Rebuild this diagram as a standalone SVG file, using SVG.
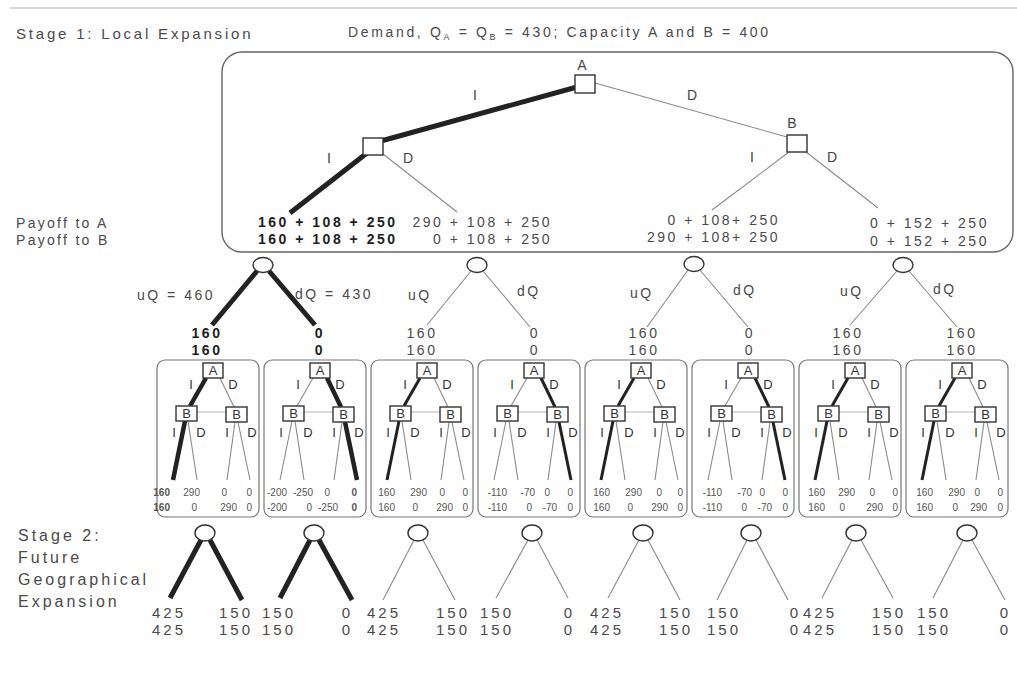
<svg xmlns="http://www.w3.org/2000/svg" width="1017" height="681" viewBox="0 0 1017 681">
<style>
text{font-family:"Liberation Sans",Arial,Helvetica,sans-serif;fill:#4a4a4a}
.t{font-size:14px;letter-spacing:2.5px}
.h{font-size:15px;letter-spacing:2.8px}
.h2{font-size:16px;letter-spacing:3px}
.bd{font-weight:bold;fill:#1e1e1e}
.n{font-size:14px;text-anchor:middle;fill:#444}
.sn{font-size:13px;text-anchor:middle;fill:#333}
.v{font-size:10px;text-anchor:end;fill:#555}
.v2{font-size:15px;letter-spacing:3px}
.e{text-anchor:end}
.m{text-anchor:middle}
.thin{stroke:#8a8a8a;stroke-width:1.1;fill:none}
.thk{stroke:#222;stroke-width:5;fill:none}
.tk2{stroke:#222;stroke-width:4.5;fill:none}
.mid{stroke:#222;stroke-width:3;fill:none}
.sq{fill:#fff;stroke:#333;stroke-width:1.4}
.ch{fill:#fff;stroke:#333;stroke-width:1.4}
.frame{fill:none;stroke:#666;stroke-width:1.4}
.sub{fill:none;stroke:#777;stroke-width:1.2}
.info{stroke:#b5b5b5;stroke-width:1}
</style>

<line x1="10" y1="8" x2="1017" y2="8" stroke="#d6d6d6" stroke-width="2"/>

<g id="titles">
<text class="h" x="16" y="39">Stage 1: Local Expansion</text>
<text class="t" x="348" y="37" style="letter-spacing:2.65px">Demand, Q<tspan font-size="9" dy="3">A</tspan><tspan dy="-3"> = Q</tspan><tspan font-size="9" dy="3">B</tspan><tspan dy="-3"> = 430; Capacity A and B = 400</tspan></text>
<text class="t" x="16" y="228" style="letter-spacing:2.3px">Payoff to A</text>
<text class="t" x="16" y="245" style="letter-spacing:2.3px">Payoff to B</text>
<text class="h2" x="18" y="541">Stage 2:</text>
<text class="h2" x="18" y="563">Future</text>
<text class="h2" x="18" y="585">Geographical</text>
<text class="h2" x="18" y="607">Expansion</text>
</g>

<g id="stage1-frame">
<rect class="frame" x="222" y="52" width="791" height="200" rx="20"/>
</g>

<g id="connectors">
<g id="stage1-edges">
<line class="thk" x1="577" y1="87" x2="381" y2="141"/>
<line class="thk" x1="367" y1="153" x2="290" y2="213"/>
<line class="thin" x1="383" y1="154" x2="457" y2="212"/>
<line class="thin" x1="595" y1="83" x2="787" y2="137"/>
<line class="thin" x1="789" y1="152" x2="712" y2="210"/>
<line class="thin" x1="806" y1="152" x2="878" y2="208"/>
</g>
<g id="demand-edges">
<line class="thk" x1="257" y1="271" x2="212" y2="325"/>
<line class="thk" x1="269" y1="271" x2="315" y2="325"/>
<line class="thin" x1="471" y1="271" x2="427" y2="325"/>
<line class="thin" x1="483" y1="271" x2="530" y2="327"/>
<line class="thin" x1="688" y1="270" x2="647" y2="327"/>
<line class="thin" x1="700" y1="270" x2="748" y2="327"/>
<line class="thin" x1="897" y1="271" x2="850" y2="325"/>
<line class="thin" x1="909" y1="271" x2="957" y2="327"/>
</g>
<g id="sub1-edges" transform="translate(157,0)">
<line class="tk2" x1="49" y1="378" x2="33" y2="406"/><line class="thin" x1="63" y1="378" x2="77" y2="407"/>
<line class="tk2" x1="28" y1="421" x2="16" y2="480"/><line class="thin" x1="31" y1="421" x2="40" y2="480"/>
<line class="thin" x1="78" y1="422" x2="70" y2="480"/><line class="thin" x1="81" y1="422" x2="93" y2="480"/>
<line class="info" x1="40" y1="412" x2="69" y2="412"/>
</g>
<g id="sub2-edges" transform="translate(264,0)">
<line class="thin" x1="49" y1="378" x2="33" y2="406"/><line class="tk2" x1="63" y1="378" x2="77" y2="407"/>
<line class="thin" x1="28" y1="421" x2="16" y2="480"/><line class="thin" x1="31" y1="421" x2="40" y2="480"/>
<line class="thin" x1="78" y1="422" x2="70" y2="480"/><line class="tk2" x1="81" y1="422" x2="93" y2="480"/>
<line class="info" x1="40" y1="412" x2="69" y2="412"/>
</g>
<g id="sub3-edges" transform="translate(371,0)">
<line class="mid" x1="49" y1="378" x2="33" y2="406"/><line class="thin" x1="63" y1="378" x2="77" y2="407"/>
<line class="mid" x1="28" y1="421" x2="16" y2="480"/><line class="thin" x1="31" y1="421" x2="40" y2="480"/>
<line class="thin" x1="78" y1="422" x2="70" y2="480"/><line class="thin" x1="81" y1="422" x2="93" y2="480"/>
<line class="info" x1="40" y1="412" x2="69" y2="412"/>
</g>
<g id="sub4-edges" transform="translate(478,0)">
<line class="thin" x1="49" y1="378" x2="33" y2="406"/><line class="mid" x1="63" y1="378" x2="77" y2="407"/>
<line class="thin" x1="28" y1="421" x2="16" y2="480"/><line class="thin" x1="31" y1="421" x2="40" y2="480"/>
<line class="thin" x1="78" y1="422" x2="70" y2="480"/><line class="mid" x1="81" y1="422" x2="93" y2="480"/>
<line class="info" x1="40" y1="412" x2="69" y2="412"/>
</g>
<g id="sub5-edges" transform="translate(585,0)">
<line class="mid" x1="49" y1="378" x2="33" y2="406"/><line class="thin" x1="63" y1="378" x2="77" y2="407"/>
<line class="mid" x1="28" y1="421" x2="16" y2="480"/><line class="thin" x1="31" y1="421" x2="40" y2="480"/>
<line class="thin" x1="78" y1="422" x2="70" y2="480"/><line class="thin" x1="81" y1="422" x2="93" y2="480"/>
<line class="info" x1="40" y1="412" x2="69" y2="412"/>
</g>
<g id="sub6-edges" transform="translate(692,0)">
<line class="thin" x1="49" y1="378" x2="33" y2="406"/><line class="mid" x1="63" y1="378" x2="77" y2="407"/>
<line class="thin" x1="28" y1="421" x2="16" y2="480"/><line class="thin" x1="31" y1="421" x2="40" y2="480"/>
<line class="thin" x1="78" y1="422" x2="70" y2="480"/><line class="mid" x1="81" y1="422" x2="93" y2="480"/>
<line class="info" x1="40" y1="412" x2="69" y2="412"/>
</g>
<g id="sub7-edges" transform="translate(799,0)">
<line class="mid" x1="49" y1="378" x2="33" y2="406"/><line class="thin" x1="63" y1="378" x2="77" y2="407"/>
<line class="mid" x1="28" y1="421" x2="16" y2="480"/><line class="thin" x1="31" y1="421" x2="40" y2="480"/>
<line class="thin" x1="78" y1="422" x2="70" y2="480"/><line class="thin" x1="81" y1="422" x2="93" y2="480"/>
<line class="info" x1="40" y1="412" x2="69" y2="412"/>
</g>
<g id="sub8-edges" transform="translate(906,0)">
<line class="mid" x1="49" y1="378" x2="33" y2="406"/><line class="thin" x1="63" y1="378" x2="77" y2="407"/>
<line class="mid" x1="28" y1="421" x2="16" y2="480"/><line class="thin" x1="31" y1="421" x2="40" y2="480"/>
<line class="thin" x1="78" y1="422" x2="70" y2="480"/><line class="thin" x1="81" y1="422" x2="93" y2="480"/>
<line class="info" x1="40" y1="412" x2="69" y2="412"/>
</g>
<g id="stage2-edges">
<line class="thk" x1="201" y1="540" x2="170" y2="598"/><line class="thk" x1="210" y1="540" x2="242" y2="600"/>
<line class="thk" x1="310" y1="540" x2="280" y2="598"/><line class="thk" x1="319" y1="540" x2="352" y2="600"/>
<line class="thin" x1="414" y1="540" x2="383" y2="600"/><line class="thin" x1="423" y1="540" x2="455" y2="600"/>
<line class="thin" x1="528" y1="540" x2="496" y2="598"/><line class="thin" x1="537" y1="540" x2="568" y2="598"/>
<line class="thin" x1="639" y1="540" x2="608" y2="598"/><line class="thin" x1="648" y1="540" x2="680" y2="600"/>
<line class="thin" x1="747" y1="540" x2="717" y2="600"/><line class="thin" x1="756" y1="540" x2="788" y2="600"/>
<line class="thin" x1="852" y1="540" x2="822" y2="598"/><line class="thin" x1="861" y1="540" x2="893" y2="598"/>
<line class="thin" x1="963" y1="540" x2="933" y2="598"/><line class="thin" x1="972" y1="540" x2="1005" y2="600"/>
</g>
</g>

<g id="s1-nodeA">
<rect class="sq" x="575" y="75" width="20" height="18"/>
<text class="n" x="582" y="70">A</text>
</g>
<g id="s1-nodeBL">
<rect class="sq" x="363" y="138" width="20" height="17"/>
</g>
<g id="s1-nodeBR">
<rect class="sq" x="787" y="135" width="20" height="17"/>
<text class="n" x="792" y="128">B</text>
</g>
<g id="s1-labels">
<text class="n" x="475" y="100">I</text>
<text class="n" x="692" y="100">D</text>
<text class="n" x="329" y="163">I</text>
<text class="n" x="408" y="163">D</text>
<text class="n" x="752" y="162">I</text>
<text class="n" x="832" y="162">D</text>
</g>
<g id="s1-payoffs">
<text class="t bd" x="258" y="227">160 + 108 + 250</text>
<text class="t bd" x="258" y="244">160 + 108 + 250</text>
<text class="t e" x="552" y="227">290 + 108 + 250</text>
<text class="t e" x="552" y="244">0 + 108 + 250</text>
<text class="t e" x="780" y="225">0 + 108+ 250</text>
<text class="t e" x="780" y="242">290 + 108+ 250</text>
<text class="t" x="870" y="228">0 + 152 + 250</text>
<text class="t" x="870" y="246">0 + 152 + 250</text>
</g>

<g id="demand1">
<ellipse class="ch" cx="263" cy="265" rx="10" ry="7.5"/>
<text class="t" x="137" y="300">uQ = 460</text>
<text class="t" x="295" y="299">dQ = 430</text>
<text class="t bd m" x="207" y="338">160</text>
<text class="t bd m" x="207" y="355">160</text>
<text class="t bd m" x="320" y="338">0</text>
<text class="t bd m" x="320" y="355">0</text>
</g>
<g id="demand2">
<ellipse class="ch" cx="477" cy="265" rx="10" ry="7.5"/>
<text class="t" x="408" y="300">uQ</text>
<text class="t" x="517" y="296">dQ</text>
<text class="t m" x="422" y="338">160</text>
<text class="t m" x="422" y="355">160</text>
<text class="t m" x="535" y="338">0</text>
<text class="t m" x="535" y="355">0</text>
</g>
<g id="demand3">
<ellipse class="ch" cx="694" cy="264" rx="10" ry="7.5"/>
<text class="t" x="630" y="298">uQ</text>
<text class="t" x="733" y="295">dQ</text>
<text class="t m" x="644" y="338">160</text>
<text class="t m" x="644" y="355">160</text>
<text class="t m" x="750" y="338">0</text>
<text class="t m" x="750" y="355">0</text>
</g>
<g id="demand4">
<ellipse class="ch" cx="903" cy="265" rx="10" ry="7.5"/>
<text class="t" x="840" y="296">uQ</text>
<text class="t" x="933" y="294">dQ</text>
<text class="t m" x="848" y="338">160</text>
<text class="t m" x="848" y="355">160</text>
<text class="t m" x="962" y="338">160</text>
<text class="t m" x="962" y="355">160</text>
</g>

<g id="sub1" transform="translate(157,0)">
<rect class="sub" x="0" y="360" width="102" height="157" rx="8"/>
<rect class="sq" x="46" y="363" width="20" height="15"/><text class="sn" x="56" y="375">A</text>
<rect class="sq" x="19" y="406" width="21" height="15"/><text class="sn" x="29.5" y="418">B</text>
<rect class="sq" x="69" y="407" width="21" height="15"/><text class="sn" x="79.5" y="419">B</text>
<text class="sn" x="34" y="389">I</text><text class="sn" x="76" y="389">D</text>
<text class="sn" x="17" y="437">I</text><text class="sn" x="44" y="437">D</text><text class="sn" x="70" y="437">I</text><text class="sn" x="95" y="437">D</text>
<text class="v bd" x="13" y="496">160</text><text class="v" x="43" y="496">290</text><text class="v" x="70" y="496">0</text><text class="v" x="95" y="496">0</text>
<text class="v bd" x="13" y="511">160</text><text class="v" x="40" y="511">0</text><text class="v" x="80" y="511">290</text><text class="v" x="95" y="511">0</text>
</g>
<g id="sub2" transform="translate(264,0)">
<rect class="sub" x="0" y="360" width="102" height="157" rx="8"/>
<rect class="sq" x="46" y="363" width="20" height="15"/><text class="sn" x="56" y="375">A</text>
<rect class="sq" x="19" y="406" width="21" height="15"/><text class="sn" x="29.5" y="418">B</text>
<rect class="sq" x="69" y="407" width="21" height="15"/><text class="sn" x="79.5" y="419">B</text>
<text class="sn" x="34" y="389">I</text><text class="sn" x="76" y="389">D</text>
<text class="sn" x="17" y="437">I</text><text class="sn" x="44" y="437">D</text><text class="sn" x="70" y="437">I</text><text class="sn" x="95" y="437">D</text>
<text class="v" x="23" y="496">-200</text><text class="v" x="49" y="496">-250</text><text class="v" x="66" y="496">0</text><text class="v bd" x="93" y="496">0</text>
<text class="v" x="23" y="511">-200</text><text class="v" x="48" y="511">0</text><text class="v" x="74" y="511">-250</text><text class="v bd" x="93" y="511">0</text>
</g>
<g id="sub3" transform="translate(371,0)">
<rect class="sub" x="0" y="360" width="102" height="157" rx="8"/>
<rect class="sq" x="46" y="363" width="20" height="15"/><text class="sn" x="56" y="375">A</text>
<rect class="sq" x="19" y="406" width="21" height="15"/><text class="sn" x="29.5" y="418">B</text>
<rect class="sq" x="69" y="407" width="21" height="15"/><text class="sn" x="79.5" y="419">B</text>
<text class="sn" x="34" y="389">I</text><text class="sn" x="76" y="389">D</text>
<text class="sn" x="17" y="437">I</text><text class="sn" x="44" y="437">D</text><text class="sn" x="70" y="437">I</text><text class="sn" x="95" y="437">D</text>
<text class="v" x="24" y="496">160</text><text class="v" x="56" y="496">290</text><text class="v" x="74" y="496">0</text><text class="v" x="97" y="496">0</text>
<text class="v" x="24" y="511">160</text><text class="v" x="47" y="511">0</text><text class="v" x="82" y="511">290</text><text class="v" x="97" y="511">0</text>
</g>
<g id="sub4" transform="translate(478,0)">
<rect class="sub" x="0" y="360" width="102" height="157" rx="8"/>
<rect class="sq" x="46" y="363" width="20" height="15"/><text class="sn" x="56" y="375">A</text>
<rect class="sq" x="19" y="406" width="21" height="15"/><text class="sn" x="29.5" y="418">B</text>
<rect class="sq" x="69" y="407" width="21" height="15"/><text class="sn" x="79.5" y="419">B</text>
<text class="sn" x="34" y="389">I</text><text class="sn" x="76" y="389">D</text>
<text class="sn" x="17" y="437">I</text><text class="sn" x="44" y="437">D</text><text class="sn" x="70" y="437">I</text><text class="sn" x="95" y="437">D</text>
<text class="v" x="29" y="496">-110</text><text class="v" x="57" y="496">-70</text><text class="v" x="72" y="496">0</text><text class="v" x="95" y="496">0</text>
<text class="v" x="29" y="511">-110</text><text class="v" x="54" y="511">0</text><text class="v" x="79" y="511">-70</text><text class="v" x="95" y="511">0</text>
</g>
<g id="sub5" transform="translate(585,0)">
<rect class="sub" x="0" y="360" width="102" height="157" rx="8"/>
<rect class="sq" x="46" y="363" width="20" height="15"/><text class="sn" x="56" y="375">A</text>
<rect class="sq" x="19" y="406" width="21" height="15"/><text class="sn" x="29.5" y="418">B</text>
<rect class="sq" x="69" y="407" width="21" height="15"/><text class="sn" x="79.5" y="419">B</text>
<text class="sn" x="34" y="389">I</text><text class="sn" x="76" y="389">D</text>
<text class="sn" x="17" y="437">I</text><text class="sn" x="44" y="437">D</text><text class="sn" x="70" y="437">I</text><text class="sn" x="95" y="437">D</text>
<text class="v" x="25" y="496">160</text><text class="v" x="57" y="496">290</text><text class="v" x="77" y="496">0</text><text class="v" x="98" y="496">0</text>
<text class="v" x="25" y="511">160</text><text class="v" x="48" y="511">0</text><text class="v" x="83" y="511">290</text><text class="v" x="98" y="511">0</text>
</g>
<g id="sub6" transform="translate(692,0)">
<rect class="sub" x="0" y="360" width="102" height="157" rx="8"/>
<rect class="sq" x="46" y="363" width="20" height="15"/><text class="sn" x="56" y="375">A</text>
<rect class="sq" x="19" y="406" width="21" height="15"/><text class="sn" x="29.5" y="418">B</text>
<rect class="sq" x="69" y="407" width="21" height="15"/><text class="sn" x="79.5" y="419">B</text>
<text class="sn" x="34" y="389">I</text><text class="sn" x="76" y="389">D</text>
<text class="sn" x="17" y="437">I</text><text class="sn" x="44" y="437">D</text><text class="sn" x="70" y="437">I</text><text class="sn" x="95" y="437">D</text>
<text class="v" x="30" y="496">-110</text><text class="v" x="60" y="496">-70</text><text class="v" x="73" y="496">0</text><text class="v" x="96" y="496">0</text>
<text class="v" x="30" y="511">-110</text><text class="v" x="55" y="511">0</text><text class="v" x="80" y="511">-70</text><text class="v" x="96" y="511">0</text>
</g>
<g id="sub7" transform="translate(799,0)">
<rect class="sub" x="0" y="360" width="102" height="157" rx="8"/>
<rect class="sq" x="46" y="363" width="20" height="15"/><text class="sn" x="56" y="375">A</text>
<rect class="sq" x="19" y="406" width="21" height="15"/><text class="sn" x="29.5" y="418">B</text>
<rect class="sq" x="69" y="407" width="21" height="15"/><text class="sn" x="79.5" y="419">B</text>
<text class="sn" x="34" y="389">I</text><text class="sn" x="76" y="389">D</text>
<text class="sn" x="17" y="437">I</text><text class="sn" x="44" y="437">D</text><text class="sn" x="70" y="437">I</text><text class="sn" x="95" y="437">D</text>
<text class="v" x="26" y="496">160</text><text class="v" x="56" y="496">290</text><text class="v" x="76" y="496">0</text><text class="v" x="99" y="496">0</text>
<text class="v" x="26" y="511">160</text><text class="v" x="46" y="511">0</text><text class="v" x="84" y="511">290</text><text class="v" x="99" y="511">0</text>
</g>
<g id="sub8" transform="translate(906,0)">
<rect class="sub" x="0" y="360" width="102" height="157" rx="8"/>
<rect class="sq" x="46" y="363" width="20" height="15"/><text class="sn" x="56" y="375">A</text>
<rect class="sq" x="19" y="406" width="21" height="15"/><text class="sn" x="29.5" y="418">B</text>
<rect class="sq" x="69" y="407" width="21" height="15"/><text class="sn" x="79.5" y="419">B</text>
<text class="sn" x="34" y="389">I</text><text class="sn" x="76" y="389">D</text>
<text class="sn" x="17" y="437">I</text><text class="sn" x="44" y="437">D</text><text class="sn" x="70" y="437">I</text><text class="sn" x="95" y="437">D</text>
<text class="v" x="27" y="496">160</text><text class="v" x="59" y="496">290</text><text class="v" x="74" y="496">0</text><text class="v" x="97" y="496">0</text>
<text class="v" x="27" y="511">160</text><text class="v" x="52" y="511">0</text><text class="v" x="81" y="511">290</text><text class="v" x="97" y="511">0</text>
</g>

<g id="geo1"><ellipse class="ch" cx="205" cy="533" rx="10" ry="8"/>
<text class="v2" x="152" y="618">425</text><text class="v2" x="152" y="635">425</text>
<text class="v2 e" x="253" y="618">150</text><text class="v2 e" x="253" y="635">150</text></g>
<g id="geo2"><ellipse class="ch" cx="314" cy="533" rx="10" ry="8"/>
<text class="v2" x="262" y="618">150</text><text class="v2" x="262" y="635">150</text>
<text class="v2 e" x="353" y="618">0</text><text class="v2 e" x="353" y="635">0</text></g>
<g id="geo3"><ellipse class="ch" cx="418" cy="533" rx="10" ry="8"/>
<text class="v2" x="367" y="618">425</text><text class="v2" x="367" y="635">425</text>
<text class="v2 e" x="470" y="618">150</text><text class="v2 e" x="470" y="635">150</text></g>
<g id="geo4"><ellipse class="ch" cx="532" cy="533" rx="10" ry="8"/>
<text class="v2" x="480" y="618">150</text><text class="v2" x="480" y="635">150</text>
<text class="v2 e" x="575" y="618">0</text><text class="v2 e" x="575" y="635">0</text></g>
<g id="geo5"><ellipse class="ch" cx="643" cy="533" rx="10" ry="8"/>
<text class="v2" x="590" y="618">425</text><text class="v2" x="590" y="635">425</text>
<text class="v2 e" x="693" y="618">150</text><text class="v2 e" x="693" y="635">150</text></g>
<g id="geo6"><ellipse class="ch" cx="751" cy="533" rx="10" ry="8"/>
<text class="v2" x="707" y="618">150</text><text class="v2" x="707" y="635">150</text>
<text class="v2 e" x="801" y="618">0</text><text class="v2 e" x="801" y="635">0</text></g>
<g id="geo7"><ellipse class="ch" cx="856" cy="533" rx="10" ry="8"/>
<text class="v2" x="803" y="618">425</text><text class="v2" x="803" y="635">425</text>
<text class="v2 e" x="906" y="618">150</text><text class="v2 e" x="906" y="635">150</text></g>
<g id="geo8"><ellipse class="ch" cx="967" cy="533" rx="10" ry="8"/>
<text class="v2" x="917" y="618">150</text><text class="v2" x="917" y="635">150</text>
<text class="v2 e" x="1011" y="618">0</text><text class="v2 e" x="1011" y="635">0</text></g>
</svg>
